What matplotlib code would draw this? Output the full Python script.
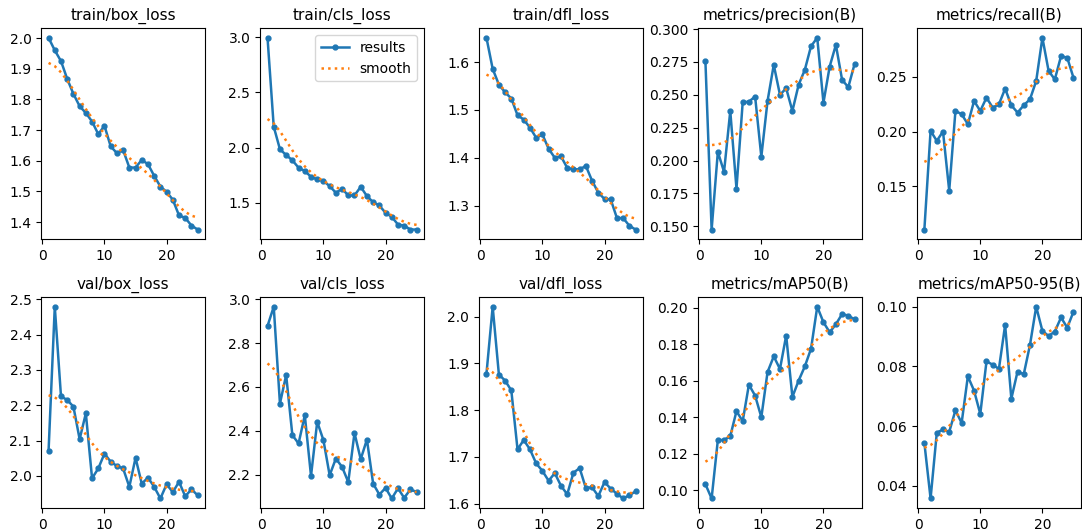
import numpy as np
import matplotlib
matplotlib.use("Agg")
import matplotlib.pyplot as plt

epochs = list(range(1, 26))

titles = ["train/box_loss", "train/cls_loss", "train/dfl_loss", "metrics/precision(B)", "metrics/recall(B)",
          "val/box_loss", "val/cls_loss", "val/dfl_loss", "metrics/mAP50(B)", "metrics/mAP50-95(B)"]

train_box_loss = [2.001, 1.960, 1.925, 1.867, 1.818, 1.778, 1.756, 1.728, 1.687, 1.714,
                  1.647, 1.625, 1.635, 1.578, 1.578, 1.603, 1.589, 1.551, 1.516, 1.499,
                  1.473, 1.422, 1.414, 1.389, 1.376]
train_cls_loss = [2.995, 2.190, 1.985, 1.933, 1.885, 1.818, 1.788, 1.736, 1.712, 1.697,
                  1.652, 1.591, 1.627, 1.567, 1.567, 1.645, 1.561, 1.506, 1.476, 1.409,
                  1.373, 1.303, 1.294, 1.258, 1.258]
train_dfl_loss = [1.651, 1.586, 1.553, 1.537, 1.524, 1.489, 1.480, 1.463, 1.442, 1.449,
                  1.419, 1.400, 1.403, 1.379, 1.376, 1.376, 1.383, 1.352, 1.327, 1.314,
                  1.313, 1.274, 1.274, 1.258, 1.250]
precision = [0.2755, 0.1475, 0.2066, 0.1914, 0.2377, 0.1787, 0.2443, 0.2448, 0.2487, 0.2029,
             0.2453, 0.2728, 0.2500, 0.2550, 0.2377, 0.2576, 0.2690, 0.2870, 0.2934, 0.2440,
             0.2715, 0.2880, 0.2614, 0.2558, 0.2733]
recall = [0.1106, 0.2006, 0.1915, 0.2000, 0.1461, 0.2188, 0.2158, 0.2067, 0.2279, 0.2188,
          0.2309, 0.2218, 0.2248, 0.2391, 0.2239, 0.2173, 0.2239, 0.2294, 0.2461, 0.2855,
          0.2552, 0.2476, 0.2688, 0.2673, 0.2491]
val_box_loss = [2.071, 2.479, 2.225, 2.215, 2.196, 2.104, 2.177, 1.993, 2.021, 2.063,
                2.040, 2.028, 2.021, 1.969, 2.051, 1.978, 1.995, 1.969, 1.936, 1.976,
                1.954, 1.983, 1.942, 1.962, 1.945]
val_cls_loss = [2.878, 2.966, 2.524, 2.654, 2.380, 2.342, 2.471, 2.194, 2.441, 2.357,
                2.197, 2.273, 2.235, 2.166, 2.390, 2.270, 2.360, 2.159, 2.109, 2.139,
                2.091, 2.137, 2.094, 2.132, 2.121]
val_dfl_loss = [1.878, 2.021, 1.876, 1.863, 1.842, 1.716, 1.736, 1.716, 1.686, 1.670,
                1.649, 1.665, 1.638, 1.620, 1.666, 1.676, 1.633, 1.635, 1.616, 1.646,
                1.632, 1.621, 1.611, 1.618, 1.626]
map50 = [0.1033, 0.0955, 0.1275, 0.1275, 0.1296, 0.1433, 0.1378, 0.1578, 0.1518, 0.1400,
         0.1647, 0.1733, 0.1664, 0.1847, 0.1511, 0.1600, 0.1678, 0.1775, 0.2005, 0.1920,
         0.1865, 0.1909, 0.1965, 0.1956, 0.1936]
map50_95 = [0.0544, 0.0358, 0.0578, 0.0589, 0.0581, 0.0653, 0.0611, 0.0767, 0.0719, 0.0641,
            0.0817, 0.0806, 0.0792, 0.0939, 0.0692, 0.0783, 0.0774, 0.0872, 0.1000, 0.0919,
            0.0902, 0.0917, 0.0964, 0.0930, 0.0983]

series = [train_box_loss, train_cls_loss, train_dfl_loss, precision, recall,
          val_box_loss, val_cls_loss, val_dfl_loss, map50, map50_95]


def gaussian_smooth(y, sigma=3.0, truncate=4.0):
    # Same smoothing the training tool applies (gaussian filter, reflect mode)
    y = np.asarray(y, dtype=float)
    r = int(truncate * sigma + 0.5)
    k = np.exp(-0.5 * (np.arange(-r, r + 1) / sigma) ** 2)
    k /= k.sum()
    padded = np.pad(y, r, mode="symmetric")
    return np.convolve(padded, k, mode="valid")


fig, axes = plt.subplots(2, 5, figsize=(10.82, 5.32), dpi=100)
fig.subplots_adjust(left=0.038, right=0.999, top=0.947, bottom=0.045, wspace=0.335, hspace=0.275)
axes = axes.ravel()
for i, (ax, ys, t) in enumerate(zip(axes, series, titles)):
    ax.plot(epochs, ys, marker=".", label="results", linewidth=1.8, markersize=7)
    ax.plot(epochs, gaussian_smooth(ys), ":", label="smooth", linewidth=1.8)
    ax.set_title(t, fontsize=11)
    ax.tick_params(labelsize=10)
    if i == 1:
        ax.legend(fontsize=10)

fig.savefig("out.png", dpi=100)
